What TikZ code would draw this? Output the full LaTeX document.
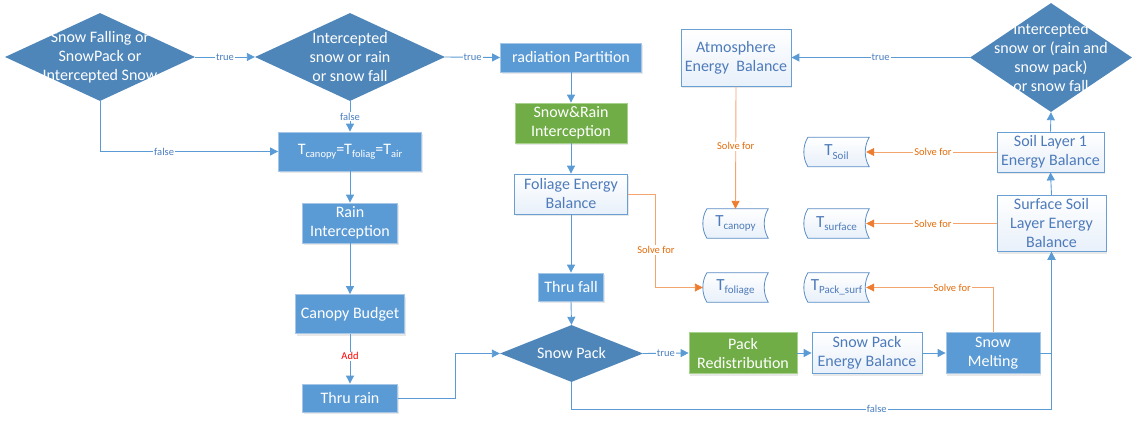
\documentclass[tikz,border=0pt]{standalone}
\usepackage{fontspec}
\setmainfont{Carlito}
\usetikzlibrary{shapes.geometric,arrows.meta,calc,shadows,backgrounds}
\definecolor{boxblue}{HTML}{5B9BD5}
\definecolor{boxedge}{HTML}{A6C6E8}
\definecolor{diafill}{HTML}{4F86B9}
\definecolor{grn}{HTML}{70AD47}
\definecolor{grnedge}{HTML}{A9D18E}
\definecolor{wedge}{HTML}{6A9FD4}
\definecolor{wtext}{HTML}{4E7BBA}
\definecolor{conn}{HTML}{5B9BD5}
\definecolor{lbl}{HTML}{4A7EC0}
\definecolor{orl}{HTML}{F4A46E}
\definecolor{ort}{HTML}{ED7D31}
\definecolor{orlbl}{HTML}{E46C0A}
\definecolor{stedge}{HTML}{5A8CC4}
\definecolor{wbottom}{HTML}{E8F0FA}
\newcommand\sbs[1]{\raisebox{-3pt}{\fontsize{10.5}{11}\selectfont #1}}
\newcommand\ssbs[1]{\raisebox{-3.5pt}{\fontsize{11}{12}\selectfont #1}}
\newcommand\storeshape[1]{%
  \draw[stedge, line width=0.8pt, top color=white, bottom color=wbottom]
    ($(#1.north west)+(4,0)$) -- (#1.north east)
    .. controls ($(#1.north east)+(-5.3,9)$) and ($(#1.south east)+(-5.3,-9)$) .. (#1.south east)
    -- ($(#1.south west)+(4,0)$)
    .. controls ($(#1.south west)+(-1.3,-9)$) and ($(#1.north west)+(-1.3,9)$) .. cycle;}
\begin{document}
\begin{tikzpicture}[x=1pt,y=-1pt,
  txt/.style={font=\fontsize{16}{19}\selectfont, align=center},
  shad/.style={drop shadow={opacity=0.18, shadow xshift=1.2pt, shadow yshift=-2pt}},
  bbox/.style={txt, rectangle, fill=boxblue, draw=boxedge, text=white, line width=0.8pt, inner sep=0pt, shad},
  gbox/.style={txt, rectangle, fill=grn, draw=grnedge, text=white, line width=0.8pt, inner sep=0pt, shad},
  wbox/.style={txt, rectangle, top color=white, bottom color=wbottom, draw=wedge, text=wtext, line width=0.8pt, inner sep=0pt, shad},
  dia/.style={diamond, fill=diafill, draw=none, inner sep=0pt},
  dtext/.style={txt, text=white},
  store/.style={rectangle, inner sep=0pt, minimum width=65pt, minimum height=29pt, text=wtext, font=\fontsize{17}{19}\selectfont},
  conline/.style={conn, line width=0.9pt, -{Triangle[length=8pt,width=8pt]}},
  orline/.style={orl, line width=0.9pt, -{Triangle[length=8pt,width=8pt,color=ort]}},
  lab/.style={font=\fontsize{10.5}{11}\selectfont, text=lbl, fill=white, inner sep=1pt},
  olab/.style={font=\fontsize{10.5}{11}\selectfont, text=orlbl, fill=white, inner sep=1pt},
  rlab/.style={font=\fontsize{10.5}{11}\selectfont, text=red, fill=white, inner sep=1pt}
]
\useasboundingbox (0,0) rectangle (1138,423);

% decisions
\node[dia, minimum width=190pt, minimum height=88pt,
  label={[dtext]center:Snow Falling or\\SnowPack or\\Intercepted Snow}] (d1) at (100,57) {};
\node[dia, minimum width=190pt, minimum height=88pt,
  label={[dtext]center:Intercepted\\snow or rain\\or snow fall}] (d2) at (350,57) {};
\node[dia, minimum width=162pt, minimum height=109pt,
  label={[dtext]center:Intercepted\\snow or (rain and\\snow pack)\\or snow fall}] (d3) at (1051,57.5) {};
\node[dia, minimum width=143pt, minimum height=57pt,
  label={[dtext]center:Snow Pack}] (sp) at (571.5,353.5) {};

% boxes
\node[bbox, minimum width=141pt, minimum height=29pt] (rp) at (571,57.5) {radiation Partition};
\node[gbox, minimum width=112pt, minimum height=40pt] (sri) at (571,123) {Snow\&Rain\\Interception};
\node[wbox, minimum width=113pt, minimum height=40pt] (feb) at (571,194) {Foliage Energy\\Balance};
\node[bbox, minimum width=65pt, minimum height=28pt] (tf) at (571,287) {Thru fall};
\node[bbox, minimum width=143pt, minimum height=39pt] (tc) at (350,151.5) {T\sbs{canopy}=T\sbs{foliag}=T\sbs{air}};
\node[bbox, minimum width=95pt, minimum height=40pt] (ri) at (350,223) {Rain\\Interception};
\node[bbox, minimum width=109pt, minimum height=39pt] (cb) at (350,314) {Canopy Budget};
\node[bbox, minimum width=95pt, minimum height=28pt] (tr) at (350,398) {Thru rain};
\node[gbox, minimum width=108pt, minimum height=41pt] (prd) at (743,353) {Pack\\Redistribution};
\node[wbox, minimum width=110pt, minimum height=41pt] (speb) at (867,353) {Snow Pack\\Energy Balance};
\node[bbox, minimum width=94pt, minimum height=41pt] (sm) at (993,353) {Snow\\Melting};
\node[wbox, minimum width=109pt, minimum height=56pt] (ssl) at (1051.5,223.5) {Surface Soil\\Layer Energy\\Balance};
\node[wbox, minimum width=107pt, minimum height=40pt] (sl1) at (1050.5,152) {Soil Layer 1\\Energy Balance};
\node[wbox, minimum width=110pt, minimum height=57pt] (atm) at (736,57.5) {Atmosphere\\Energy~~Balance};

% stores
\node[store] (tcs) at (735.5,223.5) {T\ssbs{canopy}};
\node[store] (tfs) at (735.5,287.5) {T\ssbs{foliage}};
\node[store] (tsoil) at (836.5,152) {T\ssbs{Soil}};
\node[store] (tsurf) at (836.5,223.5) {T\ssbs{surface}};
\node[store] (tps) at (836.5,287.5) {T\ssbs{Pack\_surf}};
\begin{scope}[on background layer]
  \storeshape{tcs}\storeshape{tfs}\storeshape{tsoil}\storeshape{tsurf}\storeshape{tps}
\end{scope}

% blue connectors
\draw[conline] (d1.east) -- (d2.west) node[lab, midway] {true};
\draw[conline] (d2.east) -- (rp.west) node[lab, midway] {true};
\draw[conline] (rp.south) -- (sri.north);
\draw[conline] (sri.south) -- (feb.north);
\draw[conline] (feb.south) -- (tf.north);
\draw[conline] (tf.south) -- (sp.north);
\draw[conline] (d1.south) |- (tc.west) node[lab, pos=0.68] {false};
\draw[conline] (d2.south) -- (tc.north) node[lab, midway] {false};
\draw[conline] (tc.south) -- (ri.north);
\draw[conline] (ri.south) -- (cb.north);
\draw[conline] (cb.south) -- (tr.north) node[rlab, pos=0.45] {Add};
\draw[conline] (tr.east) -- ++(58,0) |- (sp.west);
\draw[conline] (sp.east) -- (prd.west) node[lab, midway] {true};
\draw[conline] (prd.east) -- (speb.west);
\draw[conline] (speb.east) -- (sm.west);
\draw[conline] (sm.east) -| (ssl.south);
\draw[conline] (sp.south) -- ++(0,27) -| (ssl.south) node[lab, pos=0.318] {false};
\draw[conline] (ssl.north) -- (sl1.south);
\draw[conline] (sl1.north) -- (d3.south);
\draw[conline] (d3.west) -- (atm.east) node[lab, midway] {true};

% orange connectors
\draw[orline] (atm.south) -- (tcs.north) node[olab, pos=0.49] {Solve for};
\draw[orline, shorten >=-3pt] (sl1.west) -- (tsoil.east) node[olab, midway] {Solve for};
\draw[orline, shorten >=-3pt] (ssl.west) -- (tsurf.east) node[olab, midway] {Solve for};
\draw[orline, shorten >=-3pt] (sm.north) |- (tps.east) node[olab, pos=0.665] {Solve for};
\draw[orline] (feb.east) -- ++(28,0) |- (tfs.west) node[olab, pos=0.3] {Solve for};
\end{tikzpicture}
\end{document}
